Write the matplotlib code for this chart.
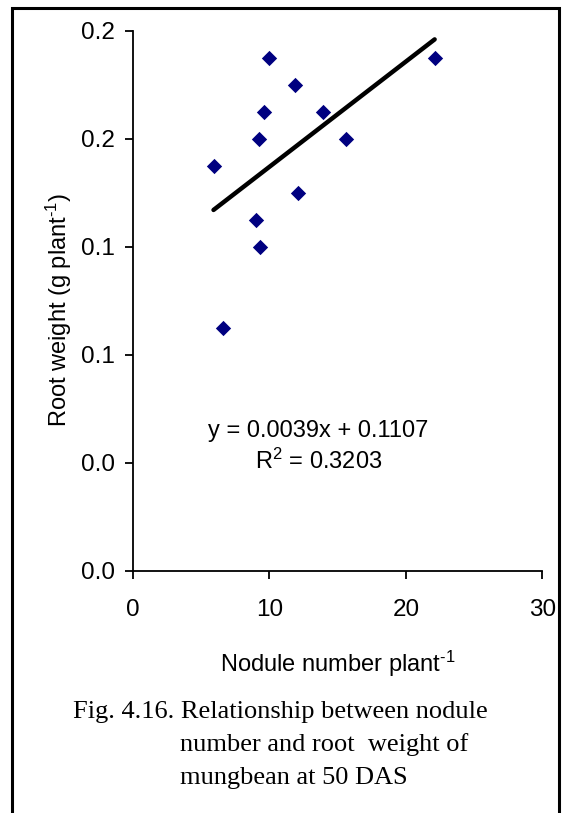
import matplotlib
matplotlib.use("Agg")
import matplotlib.pyplot as plt
from matplotlib.patches import Rectangle
from matplotlib.ticker import FormatStrFormatter
import numpy as np

# данные
nodules = [5.9, 6.6, 9.0, 9.2, 9.3, 9.6, 10.0, 11.9, 12.1, 13.9, 15.6, 22.1]
root_wt = [0.15, 0.09, 0.13, 0.16, 0.12, 0.17, 0.19, 0.18, 0.14, 0.17, 0.16, 0.19]
slope, intercept = 0.0039, 0.1107
r2 = 0.3203

x_ticks = [0, 10, 20, 30]
y_ticks = [0.0, 0.04, 0.08, 0.12, 0.16, 0.20]

plt.rcParams['font.family'] = ['Liberation Sans', 'DejaVu Sans']
plt.rcParams['mathtext.fontset'] = 'custom'
plt.rcParams['mathtext.rm'] = 'Liberation Sans'
plt.rcParams['mathtext.default'] = 'regular'

fig = plt.figure(figsize=(5.69, 8.13), dpi=100)
ax = fig.add_axes([0.2337, 0.2977, 0.7197, 0.6642])

ax.scatter(nodules, root_wt, marker='D', s=7.8**2, color='#000080', zorder=3,
           linewidths=0)

# линия тренда
xl = np.array([min(nodules), max(nodules)])
ax.plot(xl, slope * xl + intercept, color='black', lw=3.2, solid_capstyle='round')

ax.set_xlim(0, 30)
ax.set_ylim(0, 0.2)
ax.set_xticks(x_ticks)
ax.set_yticks(y_ticks)
ax.yaxis.set_major_formatter(FormatStrFormatter('%.1f'))
ax.tick_params(direction='out', length=6, width=1.3, labelsize=17.5, pad=7)
ax.tick_params(axis='x', pad=14)
for s in ['top', 'right']:
    ax.spines[s].set_visible(False)
for s in ['left', 'bottom']:
    ax.spines[s].set_linewidth(1.3)

ax.set_xlabel(r'Nodule number plant$^{\text{-1}}$', fontsize=17, labelpad=20)
ax.set_ylabel(r'Root weight (g plant$^{\text{-1}}$)', fontsize=17)
ax.yaxis.set_label_coords(-0.143, 0.483)

ax.text(13.6, 0.046, f'y = {slope}x + {intercept}\nR$^2$ = {r2}',
        ha='center', va='center', fontsize=17, linespacing=1.35)

# подпись рисунка
cap_kw = dict(family='Liberation Serif', fontsize=19, va='baseline', ha='left')
fig.text(73 / 569, 1 - 718 / 813, 'Fig. 4.16. Relationship between nodule', **cap_kw)
fig.text(180 / 569, 1 - 751 / 813, 'number and root  weight of', **cap_kw)
fig.text(180 / 569, 1 - 784 / 813, 'mungbean at 50 DAS', **cap_kw)

# рамка
fig.patches.append(Rectangle((12 / 569, -0.05), 547 / 569, 1.05 - 8 / 813,
                             transform=fig.transFigure, fill=False,
                             edgecolor='black', lw=2.2, clip_on=False))

fig.savefig('out.png', dpi=100)
